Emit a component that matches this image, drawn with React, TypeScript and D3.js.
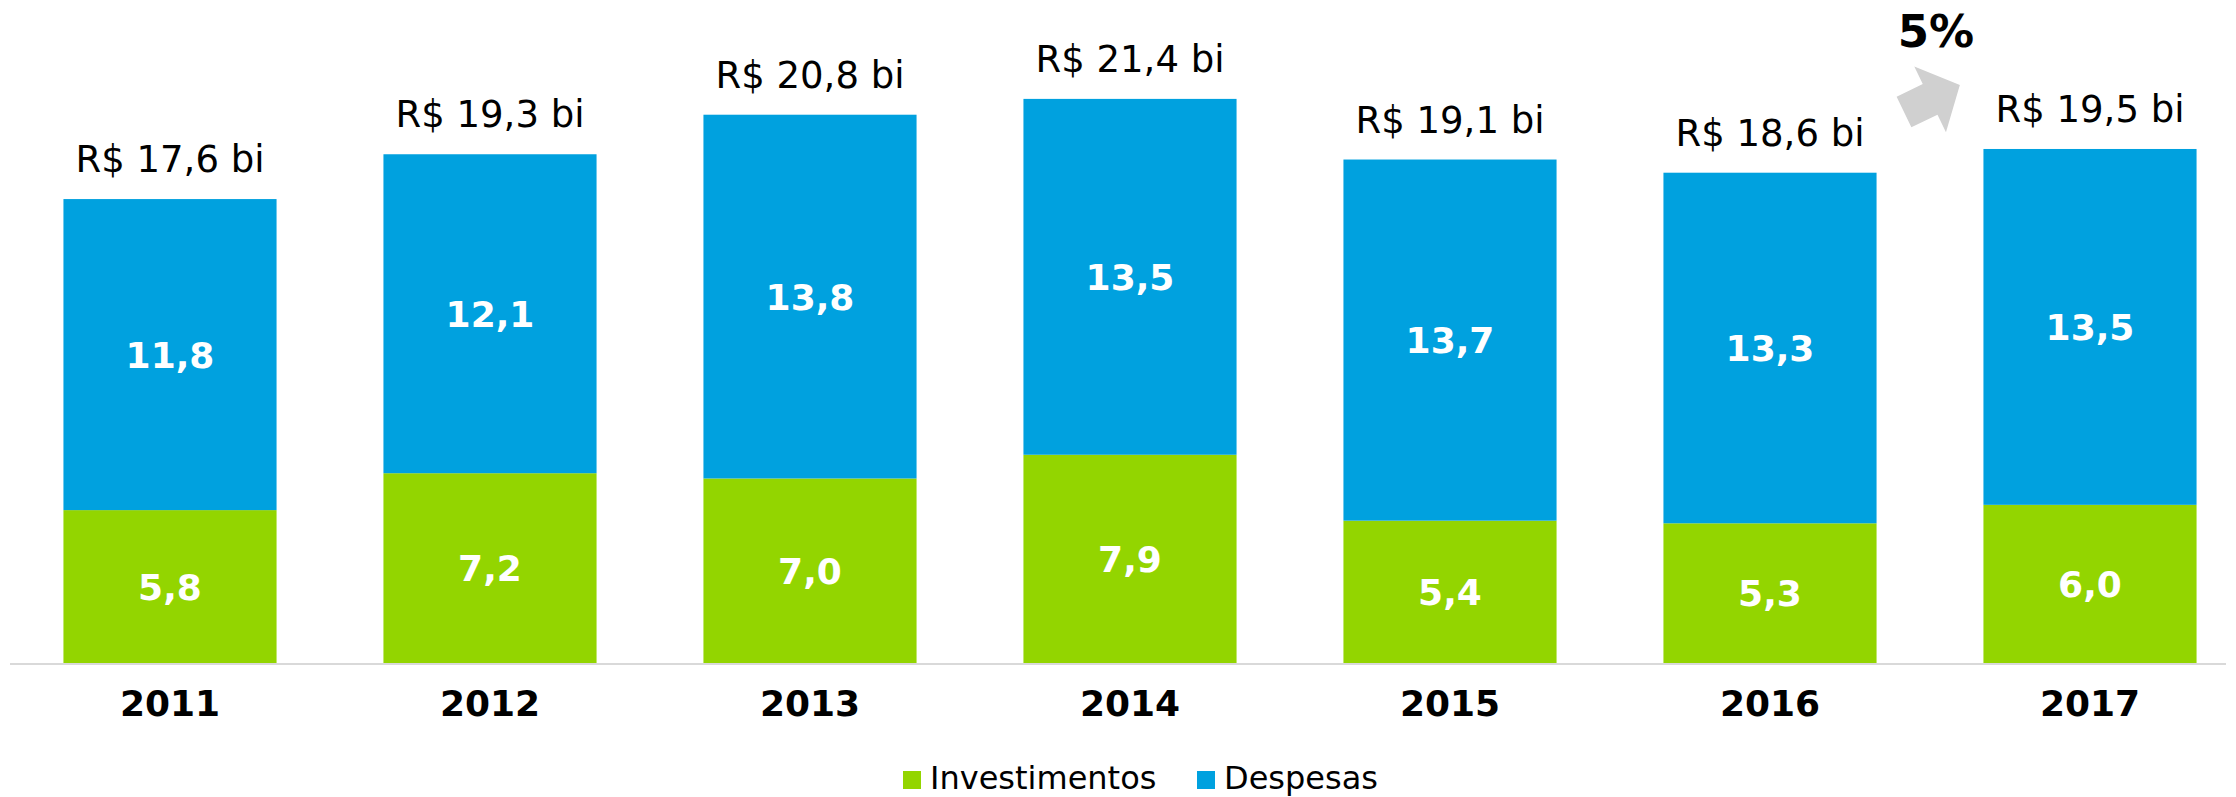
import * as d3 from 'd3';

const categories = ['2011', '2012', '2013', '2014', '2015', '2016', '2017'];
const investimentos = [5.8, 7.2, 7.0, 7.9, 5.4, 5.3, 6.0];
const despesas = [11.8, 12.1, 13.8, 13.5, 13.7, 13.3, 13.5];
const seriesNames = ['Investimentos', 'Despesas'];
const growthLabel = '5%';

const colors: Record<string, string> = {
  Investimentos: '#93D500',
  Despesas: '#00A1DF',
};

const fmt = (v: number) => v.toFixed(1).replace('.', ',');

function App() {
  const width = 2236;
  const height = 797;
  const baseline = 663;
  const font = '"DejaVu Sans", Verdana, sans-serif';

  const rows = categories.map((c, i) => ({
    year: c,
    Investimentos: investimentos[i],
    Despesas: despesas[i],
  }));

  const stacked = d3.stack<any>().keys(seriesNames)(rows);

  const x = d3
    .scaleBand()
    .domain(categories)
    .range([10, 2250])
    .paddingInner(0.334)
    .paddingOuter(0.167);

  const y = d3.scaleLinear().domain([0, 25]).range([baseline, 4]);

  // arrow sits in the gap between the last two bars
  const gapMid =
    ((x('2016') as number) + x.bandwidth() + (x('2017') as number)) / 2;
  const arrow = d3.line()([
    [0, -17],
    [29, -17],
    [29, -36.5],
    [62, 0],
    [29, 36.5],
    [29, 17],
    [0, 17],
  ]) + 'Z';

  return (
    <svg
      width={width}
      height={height}
      style={{ position: 'absolute', left: 0, top: 0, background: '#fff' }}
    >
      {stacked.map((s) => (
        <g key={s.key} fill={colors[s.key]}>
          {s.map((d, i) => (
            <rect
              key={i}
              x={x(categories[i])}
              y={y(d[1])}
              width={x.bandwidth()}
              height={y(d[0]) - y(d[1])}
            />
          ))}
        </g>
      ))}

      {stacked.map((s) =>
        s.map((d, i) => (
          <text
            key={s.key + i}
            x={(x(categories[i]) as number) + x.bandwidth() / 2}
            y={(y(d[0]) + y(d[1])) / 2 + 13}
            textAnchor="middle"
            fontFamily={font}
            fontWeight="bold"
            fontSize={36}
            fill="#fff"
          >
            {fmt(d[1] - d[0])}
          </text>
        ))
      )}

      {rows.map((r, i) => (
        <text
          key={'t' + i}
          x={(x(r.year) as number) + x.bandwidth() / 2}
          y={y(r.Investimentos + r.Despesas) - 27}
          textAnchor="middle"
          fontFamily={font}
          fontSize={37}
          fill="#000"
        >
          {`R$ ${fmt(r.Investimentos + r.Despesas)} bi`}
        </text>
      ))}

      <line
        x1={10}
        x2={2226}
        y1={baseline + 1}
        y2={baseline + 1}
        stroke="#d9d9d9"
        strokeWidth={2}
      />

      {categories.map((c) => (
        <text
          key={'x' + c}
          x={(x(c) as number) + x.bandwidth() / 2}
          y={716}
          textAnchor="middle"
          fontFamily={font}
          fontWeight="bold"
          fontSize={36}
          fill="#000"
        >
          {c}
        </text>
      ))}

      <path
        d={arrow}
        fill="#d0d0d0"
        transform={`translate(${gapMid - 26},112) rotate(-25.7)`}
      />
      <text
        x={gapMid + 6}
        y={47}
        textAnchor="middle"
        fontFamily={font}
        fontWeight="bold"
        fontSize={45}
        fill="#000"
      >
        {growthLabel}
      </text>

      {seriesNames.map((name, i) => {
        const lx = [903, 1197][i];
        return (
          <g key={'l' + name}>
            <rect x={lx} y={771} width={18} height={18} fill={colors[name]} />
            <text
              x={lx + 27}
              y={789}
              fontFamily={font}
              fontSize={32}
              fill="#000"
            >
              {name}
            </text>
          </g>
        );
      })}
    </svg>
  );
}

export default App;
